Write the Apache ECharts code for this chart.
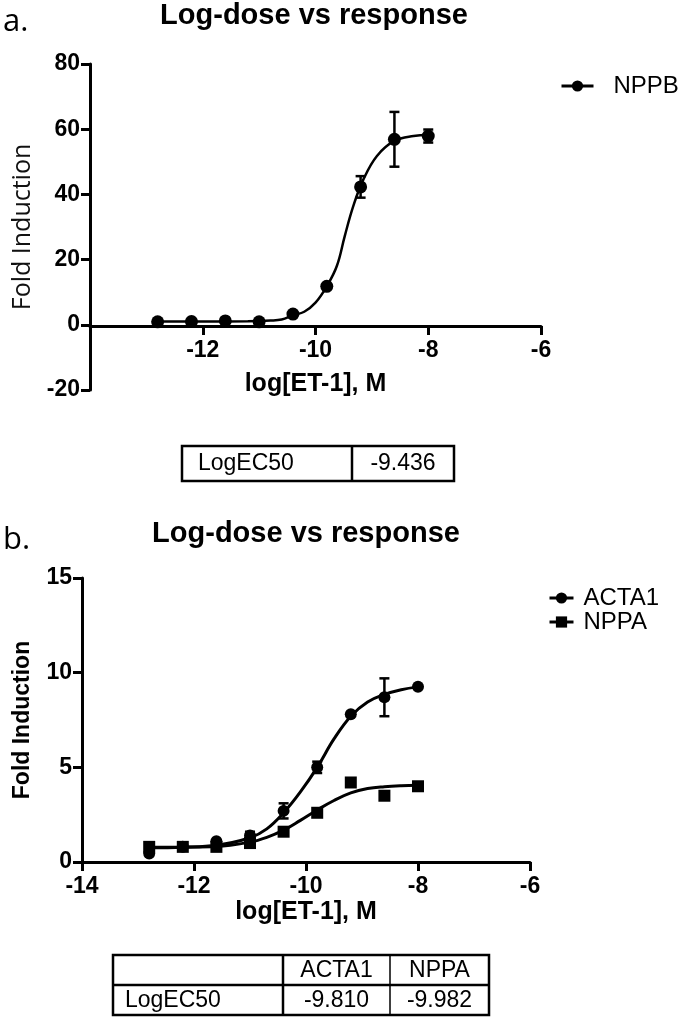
<!DOCTYPE html>
<html><head><meta charset="utf-8">
<script src="https://cdn.jsdelivr.net/npm/echarts@6/dist/echarts.min.js"></script>
<style>html,body{margin:0;padding:0;background:#fff}#c{width:678px;height:1018px}</style>
</head><body><div id="c"></div>
<script>
// ---- data ----
const doses = [-12.8, -12.2, -11.6, -11.0, -10.4, -9.8, -9.2, -8.6, -8.0];
const nppbMean = [0.9, 1.0, 1.2, 0.9, 3.3, 11.8, 42.3, 56.9, 57.9];
const nppbErr  = [0, 0, 0, 0, 0, 0, 3.3, 8.4, 2.0];
const nppbFitX = [-12.8, -12.0, -11.2, -10.8, -10.6, -10.4, -10.2, -10.0, -9.8, -9.62, -9.48, -9.33, -9.15, -8.91, -8.6, -8.26, -8.0];
const nppbFitY = [1.0, 1.0, 1.1, 1.3, 1.6, 2.9, 4.0, 6.8, 11.8, 18.1, 27.3, 36.4, 44.6, 51.8, 56.4, 57.9, 58.2];

const actaMean = [0.45, 0.8, 1.1, 1.4, 2.7, 5.0, 7.8, 8.7, 9.25];
const actaErr  = [0, 0, 0, 0.2, 0.4, 0.3, 0, 1.0, 0];
const nppaMean = [0.8, 0.8, 0.8, 1.0, 1.6, 2.6, 4.2, 3.5, 4.0];
const nppaErr  = [0, 0, 0, 0, 0, 0, 0, 0, 0.2];
const fitXB = [-12.8, -12.2, -11.6, -11.0, -10.7, -10.4, -10.1, -9.8, -9.5, -9.2, -8.9, -8.6, -8.3, -8.0];
const actaFitY = [0.75, 0.78, 0.88, 1.28, 1.75, 2.6, 3.7, 5.0, 6.5, 7.7, 8.45, 8.85, 9.1, 9.25];
const nppaFitY = [0.78, 0.79, 0.82, 1.05, 1.3, 1.68, 2.2, 2.75, 3.25, 3.65, 3.88, 3.98, 4.03, 4.05];

const tableALabels = ['LogEC50'];
const tableAValues = ['-9.436'];
const tableBHeaders = ['ACTA1', 'NPPA'];
const tableBLabels = ['LogEC50'];
const tableBValues = ['-9.810', '-9.982'];

const xTicks = [-14, -12, -10, -8, -6];

// ---- helpers ----
const zip = (a, b) => a.map((v, i) => [v, b[i]]);
const errData = (x, m, e) => x.map((v, i) => [v, m[i] - e[i], m[i] + e[i]]).filter((d, i) => e[i] > 0);
function errRender(params, api) {
  const x = api.value(0), lo = api.value(1), hi = api.value(2);
  const p1 = api.coord([x, hi]), p2 = api.coord([x, lo]);
  const w = 5;
  const st = { stroke: '#000', lineWidth: 2.5 };
  return { type: 'group', children: [
    { type: 'line', shape: { x1: p1[0], y1: p1[1], x2: p2[0], y2: p2[1] }, style: st },
    { type: 'line', shape: { x1: p1[0] - w, y1: p1[1], x2: p1[0] + w, y2: p1[1] }, style: st },
    { type: 'line', shape: { x1: p2[0] - w, y1: p2[1], x2: p2[0] + w, y2: p2[1] }, style: st }
  ]};
}

const FONT = 'Liberation Sans, Arial, sans-serif';
const axisCommon = {
  axisLine: { onZero: false, lineStyle: { color: '#000', width: 3 } },
  axisTick: { length: 9, lineStyle: { color: '#000', width: 3 } },
  axisLabel: { color: '#000', fontWeight: 'bold', fontSize: 23, fontFamily: FONT },
  splitLine: { show: false }
};

const chart = echarts.init(document.getElementById('c'));
chart.setOption({
  animation: false,
  backgroundColor: '#fff',
  title: [
    { text: 'a.', left: 3, top: 7, padding: 0, textStyle: { fontFamily: 'Open Sans', fontWeight: 'normal', fontSize: 31, color: '#000' } },
    { text: 'Log-dose vs response', left: 314, top: 1, textAlign: 'center', padding: 0, textStyle: { fontFamily: FONT, fontWeight: 'bold', fontSize: 29, color: '#000' } },
    { text: 'b.', left: 3, top: 525, padding: 0, textStyle: { fontFamily: 'Open Sans', fontWeight: 'normal', fontSize: 31, color: '#000' } },
    { text: 'Log-dose vs response', left: 306, top: 519, textAlign: 'center', padding: 0, textStyle: { fontFamily: FONT, fontWeight: 'bold', fontSize: 29, color: '#000' } }
  ],
  legend: [
    { data: ['NPPB'], left: 560, top: 74, itemWidth: 32, itemHeight: 14, padding: 0,
      lineStyle: { width: 3 },
      textStyle: { fontFamily: FONT, fontSize: 24, color: '#000', padding: [0, 0, 0, 15] } },
    { data: ['ACTA1', 'NPPA'], orient: 'vertical', left: 548, top: 586, itemWidth: 24, itemHeight: 14, itemGap: 0, padding: 0,
      lineStyle: { width: 3 },
      textStyle: { fontFamily: FONT, fontSize: 24, lineHeight: 23, color: '#000', padding: [0, 0, 0, 5] } }
  ],
  grid: [
    { left: 90, top: 64, width: 451, height: 326 },
    { left: 82, top: 578, width: 448, height: 284 }
  ],
  xAxis: [
    Object.assign({}, axisCommon, { gridIndex: 0, type: 'value', min: xTicks[0], max: xTicks[4], interval: 2,
      offset: -64,
      axisLabel: Object.assign({}, axisCommon.axisLabel, { showMinLabel: false, margin: 13 }),
      name: 'log[ET-1], M', nameLocation: 'middle', nameGap: 46,
      nameTextStyle: { fontFamily: FONT, fontWeight: 'bold', fontSize: 25, color: '#000', verticalAlign: 'top' } }),
    Object.assign({}, axisCommon, { gridIndex: 1, type: 'value', min: xTicks[0], max: xTicks[4], interval: 2,
      axisLabel: Object.assign({}, axisCommon.axisLabel, { margin: 13 }),
      name: 'log[ET-1], M', nameLocation: 'middle', nameGap: 38,
      nameTextStyle: { fontFamily: FONT, fontWeight: 'bold', fontSize: 25, color: '#000', verticalAlign: 'top' } })
  ],
  yAxis: [
    Object.assign({}, axisCommon, { gridIndex: 0, type: 'value', min: -20, max: 80, interval: 20,
      axisLabel: Object.assign({}, axisCommon.axisLabel, { margin: 10 }),
      name: 'Fold Induction', nameLocation: 'middle', nameGap: 53,
      nameTextStyle: { fontFamily: 'Open Sans', fontWeight: 'normal', fontSize: 25, color: '#111' } }),
    Object.assign({}, axisCommon, { gridIndex: 1, type: 'value', min: 0, max: 15, interval: 5,
      axisLabel: Object.assign({}, axisCommon.axisLabel, { margin: 10 }),
      name: 'Fold Induction', nameLocation: 'middle', nameGap: 48,
      nameTextStyle: { fontFamily: FONT, fontWeight: 'bold', fontSize: 23, color: '#000' } })
  ],
  series: [
    { name: 'NPPB', type: 'line', xAxisIndex: 0, yAxisIndex: 0, data: zip(nppbFitX, nppbFitY), smooth: 0.4,
      showSymbol: false, symbol: 'circle', itemStyle: { color: '#000' }, lineStyle: { color: '#000', width: 2.5 }, z: 3 },
    { name: 'NPPB points', type: 'scatter', xAxisIndex: 0, yAxisIndex: 0, data: zip(doses, nppbMean),
      symbol: 'circle', symbolSize: 13, itemStyle: { color: '#000', opacity: 1 }, z: 5 },
    { name: 'NPPB error', type: 'custom', xAxisIndex: 0, yAxisIndex: 0, renderItem: errRender,
      data: errData(doses, nppbMean, nppbErr), encode: { x: 0, y: [1, 2] }, z: 4 },

    { name: 'ACTA1', type: 'line', xAxisIndex: 1, yAxisIndex: 1, data: zip(fitXB, actaFitY), smooth: 0.4,
      showSymbol: false, symbol: 'circle', itemStyle: { color: '#000' }, lineStyle: { color: '#000', width: 3 }, z: 3 },
    { name: 'NPPA', type: 'line', xAxisIndex: 1, yAxisIndex: 1, data: zip(fitXB, nppaFitY), smooth: 0.4,
      showSymbol: false, symbol: 'rect', itemStyle: { color: '#000' }, lineStyle: { color: '#000', width: 3 }, z: 3 },
    { name: 'ACTA1 points', type: 'scatter', xAxisIndex: 1, yAxisIndex: 1, data: zip(doses, actaMean),
      symbol: 'circle', symbolSize: 12, itemStyle: { color: '#000', opacity: 1 }, z: 5 },
    { name: 'NPPA points', type: 'scatter', xAxisIndex: 1, yAxisIndex: 1, data: zip(doses, nppaMean),
      symbol: 'rect', symbolSize: 12, itemStyle: { color: '#000', opacity: 1 }, z: 5 },
    { name: 'ACTA1 error', type: 'custom', xAxisIndex: 1, yAxisIndex: 1, renderItem: errRender,
      data: errData(doses, actaMean, actaErr), encode: { x: 0, y: [1, 2] }, z: 4 },
    { name: 'NPPA error', type: 'custom', xAxisIndex: 1, yAxisIndex: 1, renderItem: errRender,
      data: errData(doses, nppaMean, nppaErr), encode: { x: 0, y: [1, 2] }, z: 4 }
  ],
  graphic: [
    // table a
    { type: 'rect', shape: { x: 182, y: 446, width: 272, height: 35 }, style: { fill: '#fff', stroke: '#000', lineWidth: 2.5 } },
    { type: 'line', shape: { x1: 352, y1: 446, x2: 352, y2: 481 }, style: { stroke: '#000', lineWidth: 2.5 } },
    { type: 'text', x: 198, y: 464, style: { text: tableALabels[0], font: '23px ' + FONT, fill: '#000', verticalAlign: 'middle' } },
    { type: 'text', x: 403, y: 464, style: { text: tableAValues[0], font: '23px ' + FONT, fill: '#000', align: 'center', verticalAlign: 'middle' } },
    // table b
    { type: 'rect', shape: { x: 113, y: 955, width: 376, height: 60 }, style: { fill: '#fff', stroke: '#000', lineWidth: 2.5 } },
    { type: 'line', shape: { x1: 113, y1: 985, x2: 489, y2: 985 }, style: { stroke: '#000', lineWidth: 2.5 } },
    { type: 'line', shape: { x1: 283, y1: 955, x2: 283, y2: 1015 }, style: { stroke: '#000', lineWidth: 2.5 } },
    { type: 'line', shape: { x1: 390, y1: 955, x2: 390, y2: 1015 }, style: { stroke: '#000', lineWidth: 1.5 } },
    { type: 'text', x: 336.5, y: 971, style: { text: tableBHeaders[0], font: '23px ' + FONT, fill: '#000', align: 'center', verticalAlign: 'middle' } },
    { type: 'text', x: 439.5, y: 971, style: { text: tableBHeaders[1], font: '23px ' + FONT, fill: '#000', align: 'center', verticalAlign: 'middle' } },
    { type: 'text', x: 125, y: 1001, style: { text: tableBLabels[0], font: '23px ' + FONT, fill: '#000', verticalAlign: 'middle' } },
    { type: 'text', x: 336.5, y: 1001, style: { text: tableBValues[0], font: '23px ' + FONT, fill: '#000', align: 'center', verticalAlign: 'middle' } },
    { type: 'text', x: 439.5, y: 1001, style: { text: tableBValues[1], font: '23px ' + FONT, fill: '#000', align: 'center', verticalAlign: 'middle' } }
  ]
});
</script>
</body></html>
